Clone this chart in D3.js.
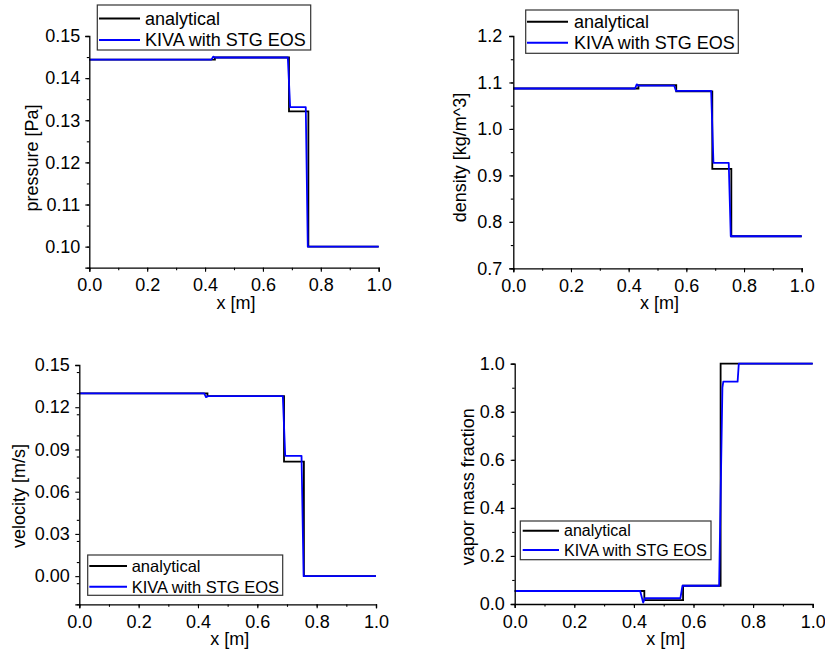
<!DOCTYPE html>
<html><head><meta charset="utf-8">
<script src="https://cdn.jsdelivr.net/npm/d3@7"></script>
<style>body{margin:0;background:#fff}svg{display:block}text{font-family:"Liberation Sans",Arial,sans-serif;fill:#000}</style>
</head><body>
<script>
// ---------- data ----------
const seriesNames = ["analytical", "KIVA with STG EOS"];
const xTicks = [0, 0.2, 0.4, 0.6, 0.8, 1.0];

// pressure [Pa]
const pressAnaX = [0, 0.434, 0.434, 0.690, 0.690, 0.757, 0.757, 1.0];
const pressAnaY = [0.1444, 0.1444, 0.1449, 0.1449, 0.1321, 0.1321, 0.1000, 0.1000];
const pressKivaX = [0, 0.422, 0.428, 0.434, 0.686, 0.694, 0.748, 0.755, 1.0];
const pressKivaY = [0.1444, 0.1444, 0.1451, 0.1449, 0.1449, 0.1331, 0.1331, 0.1000, 0.1000];
const pressTicks = [0.10, 0.11, 0.12, 0.13, 0.14, 0.15];

// density [kg/m^3]
const densAnaX = [0, 0.434, 0.434, 0.565, 0.565, 0.690, 0.690, 0.756, 0.756, 1.0];
const densAnaY = [1.087, 1.087, 1.094, 1.094, 1.081, 1.081, 0.914, 0.914, 0.769, 0.769];
const densKivaX = [0, 0.422, 0.428, 0.434, 0.558, 0.564, 0.686, 0.694, 0.747, 0.754, 1.0];
const densKivaY = [1.087, 1.087, 1.096, 1.093, 1.093, 1.082, 1.082, 0.927, 0.927, 0.769, 0.769];
const densTicks = [0.7, 0.8, 0.9, 1.0, 1.1, 1.2];

// velocity [m/s]
const velAnaX = [0, 0.432, 0.432, 0.690, 0.690, 0.757, 0.757, 1.0];
const velAnaY = [0.1299, 0.1299, 0.1279, 0.1279, 0.0814, 0.0814, 0.0, 0.0];
const velKivaX = [0, 0.421, 0.427, 0.434, 0.686, 0.694, 0.749, 0.756, 1.0];
const velKivaY = [0.1299, 0.1299, 0.1272, 0.1279, 0.1279, 0.0855, 0.0855, 0.0, 0.0];
const velTicks = [0.00, 0.03, 0.06, 0.09, 0.12, 0.15];

// vapor mass fraction
const vapAnaX = [0, 0.435, 0.435, 0.565, 0.565, 0.691, 0.691, 1.0];
const vapAnaY = [0.054, 0.054, 0.016, 0.016, 0.076, 0.076, 1.0, 1.0];
const vapKivaX = [0, 0.421, 0.426, 0.431, 0.437, 0.556, 0.563, 0.686, 0.697, 0.700, 0.748, 0.752, 1.0];
const vapKivaY = [0.054, 0.054, 0.030, 0.006, 0.024, 0.024, 0.076, 0.076, 0.90, 0.925, 0.925, 1.0, 1.0];
const vapTicks = [0.0, 0.2, 0.4, 0.6, 0.8, 1.0];

// ---------- layout ----------
const W = 825, H = 651;
const svg = d3.select("body").append("svg").attr("width", W).attr("height", H);

const panels = [
  {ax: pressAnaX, ay: pressAnaY, kx: pressKivaX, ky: pressKivaY, ticks: pressTicks, yDom: [0.095, 0.15], fmt: ".2f",
   title: "pressure [Pa]", x0: 89.3, x1: 378.7, y0: 267.7, y1: 36, titleX: 32, titleY: 158, lblGap: 7,
   leg: {x: 97.3, y: 5, w: 213.4, h: 45, r1: 18.5, r2: 40, lx0: 99, lx1: 140, tx: 145, fs: 18}},
  {ax: densAnaX, ay: densAnaY, kx: densKivaX, ky: densKivaY, ticks: densTicks, yDom: [0.7, 1.2], fmt: ".1f",
   title: "density [kg/m^3]", x0: 513.3, x1: 801.7, y0: 268.3, y1: 36, titleX: 460, titleY: 157.5, lblGap: 9,
   leg: {x: 525.7, y: 10, w: 212.6, h: 43.3, r1: 21.7, r2: 42.7, lx0: 527, lx1: 568, tx: 574, fs: 18}},
  {ax: velAnaX, ay: velAnaY, kx: velKivaX, ky: velKivaY, ticks: velTicks, yDom: [-0.02, 0.15], fmt: ".2f",
   title: "velocity [m/s]", x0: 79.3, x1: 376, y0: 604.3, y1: 365, titleX: 18.5, titleY: 496, lblGap: 7.5,
   leg: {x: 87.7, y: 555, w: 195, h: 40.3, r1: 566, r2: 586.7, lx0: 89.3, lx1: 127, tx: 131.7, fs: 16.5}},
  {ax: vapAnaX, ay: vapAnaY, kx: vapKivaX, ky: vapKivaY, ticks: vapTicks, yDom: [0, 1.0], fmt: ".1f",
   title: "vapor mass fraction", x0: 514.7, x1: 812.7, y0: 604, y1: 363.7, titleX: 467.5, titleY: 486.7, lblGap: 8,
   leg: {x: 520.3, y: 521, w: 190.7, h: 38.7, r1: 530.7, r2: 550, lx0: 522.7, lx1: 559, tx: 564, fs: 16}}
];

const colors = ["#000000", "#0000ff"];

panels.forEach(p => {
  const x = d3.scaleLinear().domain([0, 1]).range([p.x0, p.x1]);
  const y = d3.scaleLinear().domain(p.yDom).range([p.y0, p.y1]);
  const g = svg.append("g");

  // series
  const line = d3.line().x(d => x(d[0])).y(d => y(d[1]));
  const ana = p.ax.map((v, i) => [v, p.ay[i]]);
  const kiva = p.kx.map((v, i) => [v, p.ky[i]]);
  g.append("path").datum(ana).attr("d", line).attr("fill", "none")
    .attr("stroke", colors[0]).attr("stroke-width", 1.8).attr("stroke-linejoin", "miter");
  g.append("path").datum(kiva).attr("d", line).attr("fill", "none")
    .attr("stroke", colors[1]).attr("stroke-width", 1.8).attr("stroke-linejoin", "round");

  // x axis: major and minor ticks
  const xMinor = d3.range(0, 1.0001, 0.1);
  const xAxisMinor = d3.axisBottom(x).tickValues(xMinor).tickSize(2.5).tickFormat("");
  g.append("g").attr("transform", `translate(0,${p.y0})`).call(xAxisMinor)
    .call(s => s.select(".domain").remove());
  const xAxis = d3.axisBottom(x).tickValues(xTicks).tickSize(4).tickPadding(7).tickFormat(d3.format(".1f"));
  const gx = g.append("g").attr("transform", `translate(0,${p.y0})`).call(xAxis);
  gx.selectAll("text").style("font-size", "18px").attr("font-family", null);

  // y axis
  const step = p.ticks[1] - p.ticks[0];
  const yMinor = d3.range(p.yDom[0], p.yDom[1] + step * 0.01, step / 2)
    .filter(v => v >= p.yDom[0] - 1e-9 && v <= p.yDom[1] + 1e-9);
  const yAxisMinor = d3.axisLeft(y).tickValues(yMinor).tickSize(2.5).tickFormat("");
  g.append("g").attr("transform", `translate(${p.x0},0)`).call(yAxisMinor)
    .call(s => s.select(".domain").remove());
  const yAxis = d3.axisLeft(y).tickValues(p.ticks).tickSize(4).tickPadding(p.lblGap - 4 + 2).tickFormat(d3.format(p.fmt));
  const gy = g.append("g").attr("transform", `translate(${p.x0},0)`).call(yAxis);
  gy.selectAll("text").style("font-size", "18px").attr("font-family", null);

  [gx, gy].forEach(a => {
    a.select(".domain").attr("stroke", "#000").attr("stroke-width", 1.3);
  });
  g.selectAll(".tick line").attr("stroke", "#000").attr("stroke-width", 1.1);

  // axis titles
  g.append("text").attr("x", (p.x0 + p.x1) / 2 + 2).attr("y", p.y0 + 41)
    .attr("text-anchor", "middle").style("font-size", "18px").text("x [m]");
  g.append("text").attr("transform", `translate(${p.titleX},${p.titleY}) rotate(-90)`)
    .attr("text-anchor", "middle").attr("dominant-baseline", "central")
    .style("font-size", "18px").text(p.title);

  // legend
  const L = p.leg;
  const lg = g.append("g");
  lg.append("rect").attr("x", L.x).attr("y", L.y).attr("width", L.w).attr("height", L.h)
    .attr("fill", "#fff").attr("stroke", "#333").attr("stroke-width", 1.2);
  [L.r1, L.r2].forEach((ry, i) => {
    lg.append("line").attr("x1", L.lx0).attr("x2", L.lx1).attr("y1", ry).attr("y2", ry)
      .attr("stroke", colors[i]).attr("stroke-width", 2);
    lg.append("text").attr("x", L.tx).attr("y", ry).attr("dominant-baseline", "central")
      .style("font-size", L.fs + "px").text(seriesNames[i]);
  });
});
</script>
</body></html>
